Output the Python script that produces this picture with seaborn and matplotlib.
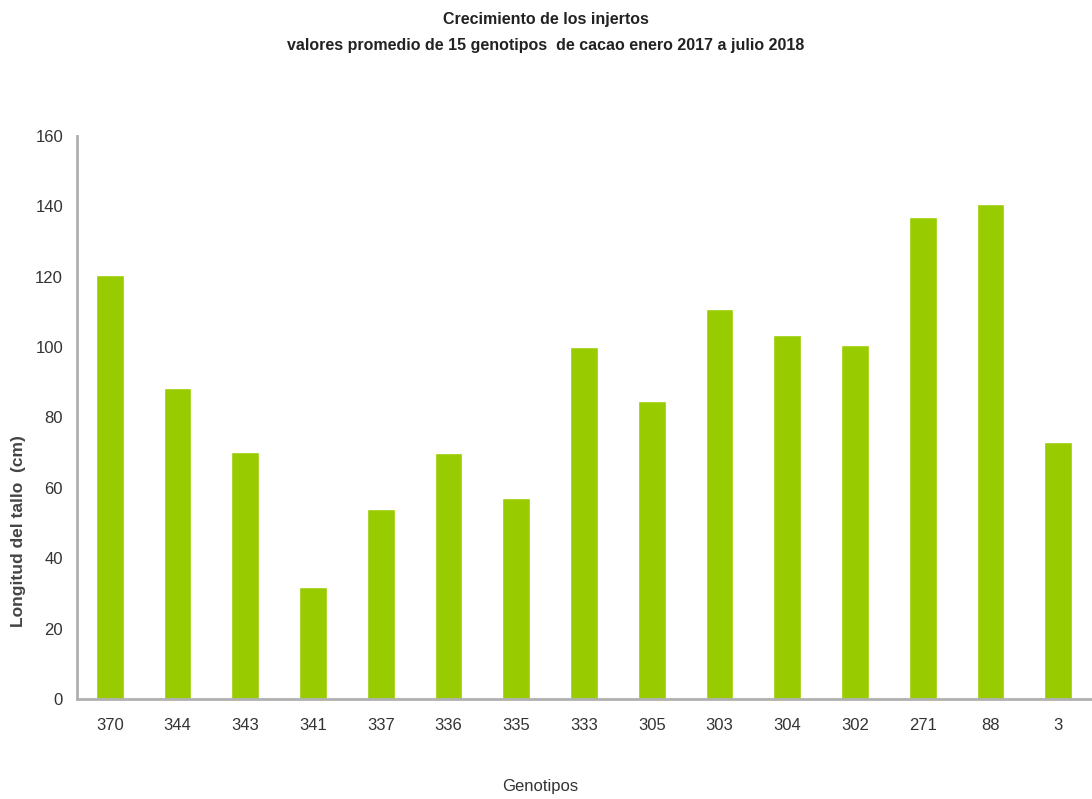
import matplotlib
matplotlib.use("Agg")
import matplotlib.pyplot as plt
import seaborn as sns
import pandas as pd

genotipos = ["370", "344", "343", "341", "337", "336", "335", "333",
             "305", "303", "304", "302", "271", "88", "3"]
longitud = [120.5, 88.3, 70.3, 31.9, 54.1, 69.8, 57.2, 99.9,
            84.8, 110.7, 103.3, 100.5, 136.9, 140.6, 72.9]

df = pd.DataFrame({"Genotipo": genotipos, "Longitud": longitud})

sns.set_theme(style="white")
plt.rcParams["font.family"] = ["Liberation Sans Narrow", "Liberation Sans", "DejaVu Sans"]

fig = plt.figure(figsize=(10.92, 7.99), dpi=100)
ax = fig.add_axes([0.0705, 0.1252, 0.9295, 0.7046])

sns.barplot(data=df, x="Genotipo", y="Longitud", order=genotipos,
            color="#99cc00", saturation=1, width=0.41, ax=ax)

ax.set_ylim(0, 160)
ax.set_xlim(-0.485, 14.5)
ax.set_yticks(range(0, 161, 20))
ax.tick_params(axis="both", length=0, labelsize=12, colors="#333333", pad=10)
ax.tick_params(axis="x", pad=14)

for side in ("top", "right"):
    ax.spines[side].set_visible(False)
for side in ("left", "bottom"):
    ax.spines[side].set_color("#b0b0b0")
    ax.spines[side].set_linewidth(2)

ax.set_xlabel("")
ax.set_ylabel("")

fig.text(0.5, 0.985, "Crecimiento de los injertos", ha="center", va="top",
         fontsize=11.5, fontweight="bold", color="#222222")
fig.text(0.5, 0.952, "valores promedio de 15 genotipos  de cacao enero 2017 a julio 2018",
         ha="center", va="top", fontsize=11.5, fontweight="bold", color="#222222")
fig.text(0.495, 0.016, "Genotipos", ha="center", va="center",
         fontsize=12, color="#333333")
fig.text(0.017, 0.335, "Longitud del tallo  (cm)", ha="center", va="center",
         rotation=90, fontsize=12.5, fontweight="bold", color="#444444")

fig.savefig("out.png", dpi=100)
